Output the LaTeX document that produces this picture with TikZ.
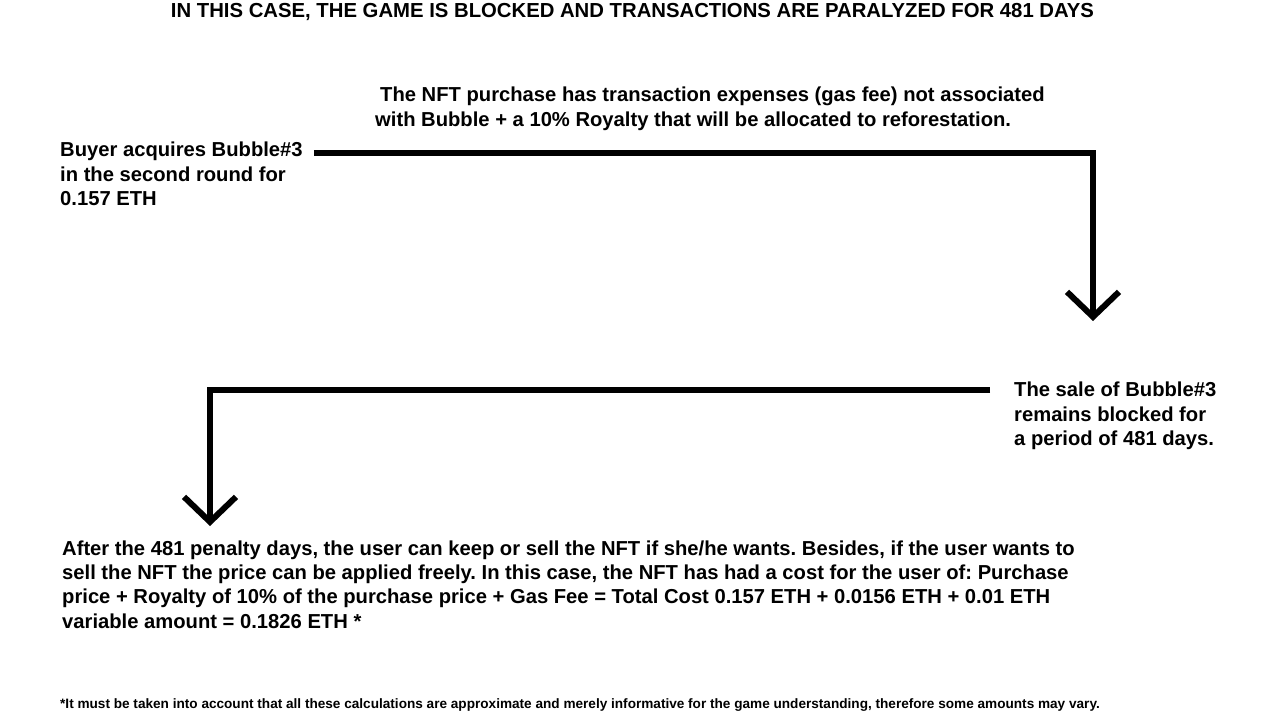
\documentclass[tikz,border=0pt]{standalone}
\usepackage{fontspec}
\setmainfont{Liberation Sans}
\usetikzlibrary{arrows.meta,calc}
\frenchspacing
\begin{document}
\begin{tikzpicture}[x=1pt,y=-1pt,
  txt/.style={font=\fontsize{20.2}{24.3}\selectfont\bfseries, inner sep=0pt, align=left, anchor=north west},
  conn/.style={line width=6pt, -{Straight Barb[length=25pt,width=52pt,line width=6pt]}},
  titlestyle/.style={font=\fontsize{20.3}{24}\selectfont\bfseries, inner sep=0pt, anchor=base},
  notestyle/.style={font=\fontsize{13.6}{16}\selectfont\bfseries, inner sep=0pt, anchor=base west}
]
\useasboundingbox[fill=white] (0,0) rectangle (1280,720);

\node[titlestyle] (title) at (632.5,17.3) {IN THIS CASE, THE GAME IS BLOCKED AND TRANSACTIONS ARE PARALYZED FOR 481 DAYS};

\node[txt] (nft) at (375,87) {\hspace*{5pt}The NFT purchase has transaction expenses (gas fee) not associated\\with Bubble + a 10\% Royalty that will be allocated to reforestation.};

\node[txt] (buyer) at (60,142) {Buyer acquires Bubble\#3\\in the second round for\\0.157 ETH};

\node[txt] (sale) at (1014,382) {The sale of Bubble\#3\\remains blocked for\\a period of 481 days.};

\node[txt] (after) at (62,540.5) {After the 481 penalty days, the user can keep or sell the NFT if she/he wants. Besides, if the user wants to\\sell the NFT the price can be applied freely. In this case, the NFT has had a cost for the user of: Purchase\\price + Royalty of 10\% of the purchase price + Gas Fee = Total Cost 0.157 ETH + 0.0156 ETH + 0.01 ETH\\variable amount = 0.1826 ETH *};

\node[notestyle] (note) at (60,708) {*It must be taken into account that all these calculations are approximate and merely informative for the game understanding, therefore some amounts may vary.};

\coordinate (tip1) at (1093,321);
\coordinate (tip2) at (210,526);

\draw[conn] ($(buyer.north east)+(11,11)$) -| (tip1);
\draw[conn] ($(sale.north west)+(-24,8)$) -| (tip2);
\end{tikzpicture}
\end{document}
